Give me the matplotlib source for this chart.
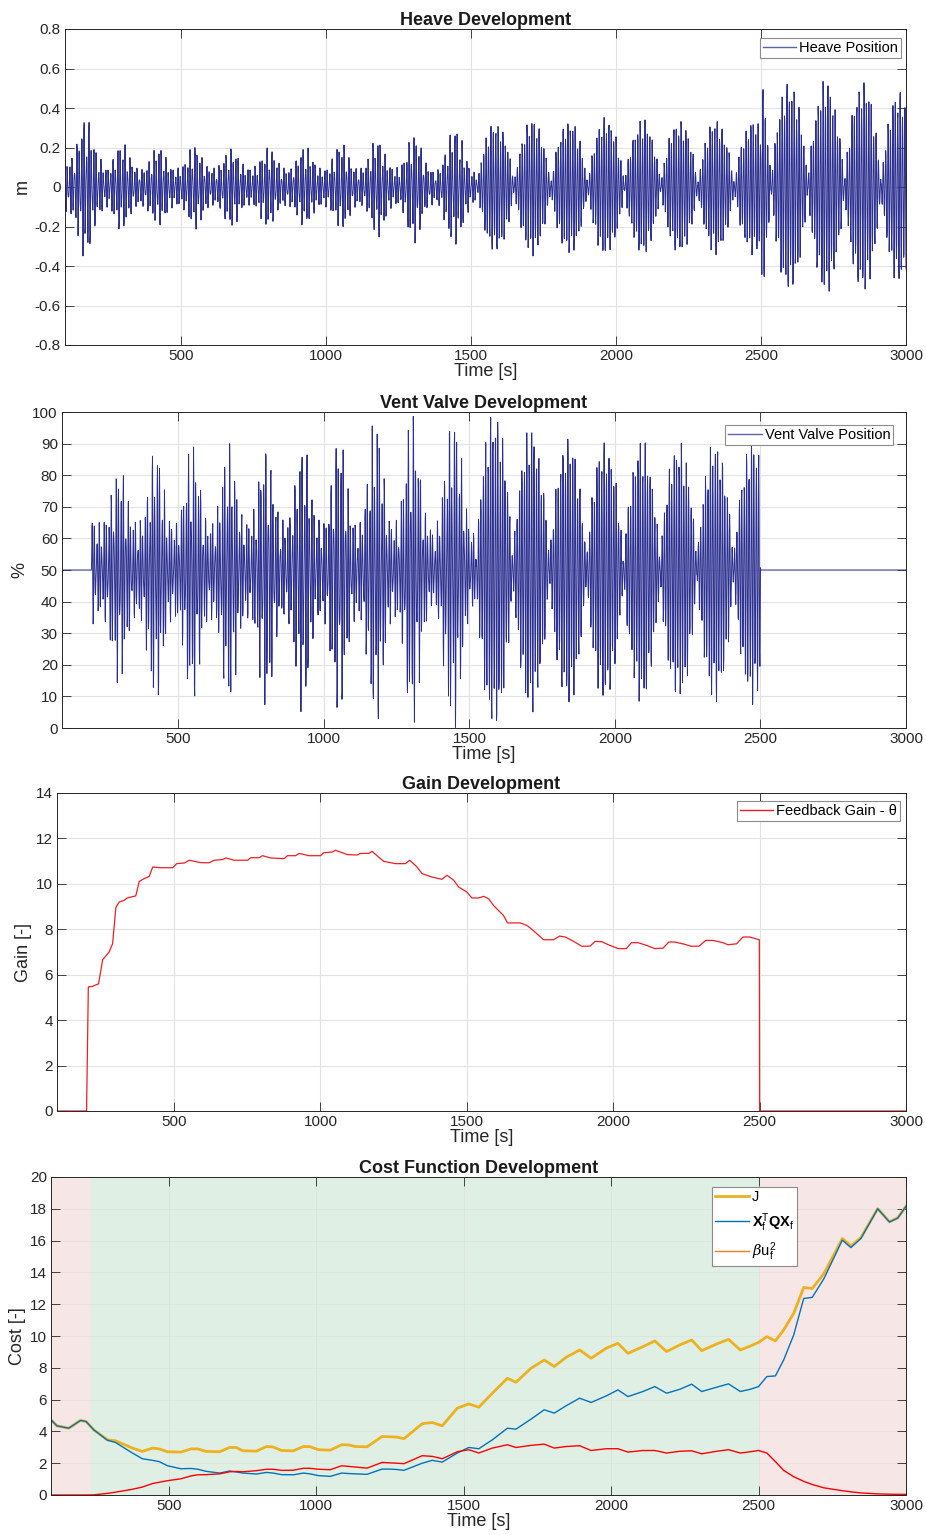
import numpy as np
import matplotlib.pyplot as plt
from matplotlib.lines import Line2D

plt.rcParams['font.family'] = ['Liberation Sans', 'DejaVu Sans']
plt.rcParams['axes.unicode_minus'] = False
plt.rcParams['mathtext.fontset'] = 'custom'
plt.rcParams['mathtext.rm'] = 'Liberation Sans'
plt.rcParams['mathtext.bf'] = 'Liberation Sans:bold'
plt.rcParams['mathtext.it'] = 'DejaVu Serif:italic'

# ---- wave groups (boundaries between groups, in s) ----
group_edges = [-18, 108, 233, 359, 485, 611, 737, 864, 990, 1115, 1241, 1367, 1522,
               1649, 1775, 1902, 2029, 2155, 2282, 2408, 2535, 2661, 2788, 2914, 3040]
wave_periods = [8.3, 5.9]          # s, the two wave components inside a group
weights_early = [0.68, 0.32]       # before ~1520 s the groups look irregular
weights_late = [0.86, 0.14]        # afterwards the groups are clean
regular_from = 1522

# heave: peak amplitude of each group and the residual level between groups [m]
heave_amp = [0.15, 0.37, 0.23, 0.21, 0.22, 0.21, 0.21, 0.21, 0.23, 0.26, 0.29, 0.31,
             0.34, 0.35, 0.35, 0.36, 0.35, 0.35, 0.35, 0.35, 0.55, 0.55, 0.55, 0.50]
heave_floor = [0.14, 0.14, 0.1, 0.1, 0.1, 0.1, 0.1, 0.1, 0.1, 0.1, 0.1, 0.08,
               0.01, 0.01, 0.01, 0.01, 0.01, 0.01, 0.01, 0.01, 0.02, 0.02, 0.02, 0.02]
heave_amp_after_switch = 0.75   # group running across t = 2500 s

# vent valve: deviation above / below 50 % per group, and residual level [%]
vent_up = [0, 24, 35, 40, 41, 41, 41, 42, 44, 50, 52, 52,
           52, 46, 43, 42, 42, 42, 42, 42, 0, 0, 0, 0]
vent_lo = [0, 26, 37, 44, 45, 45, 45, 46, 48, 52, 52, 52,
           52, 46, 44, 43, 43, 43, 43, 43, 0, 0, 0, 0]
vent_floor = [0, 15, 16, 16, 16, 16, 16, 16, 16, 16, 16, 12,
              2, 2, 2, 2, 2, 2, 2, 2, 0, 0, 0, 0]
vent_on, vent_off = 202, 2500

# feedback gain theta
gain_t = [100, 201, 207, 222, 242, 256, 278, 290, 301, 312, 329, 340, 369, 381, 398, 415,
          427, 455, 495, 509, 535, 552, 592, 620, 637, 666, 677, 705, 751, 762, 790, 802,
          830, 876, 887, 915, 927, 961, 1000, 1011, 1040, 1051, 1091, 1125, 1137, 1165,
          1176, 1216, 1256, 1290, 1305, 1330, 1347, 1381, 1415, 1432, 1455, 1472, 1500,
          1517, 1540, 1557, 1574, 1591, 1625, 1639, 1682, 1705, 1722, 1762, 1796, 1817,
          1836, 1859, 1893, 1921, 1938, 1961, 1983, 2017, 2045, 2062, 2085, 2114, 2142,
          2170, 2190, 2210, 2244, 2267, 2293, 2316, 2341, 2375, 2392, 2421, 2443, 2466,
          2499, 2500, 3000]
gain_val = [0, 0, 5.46, 5.49, 5.6, 6.66, 7.0, 7.37, 8.95, 9.2, 9.27, 9.38, 9.47, 10.11,
            10.23, 10.33, 10.74, 10.71, 10.71, 10.89, 10.92, 11.04, 10.93, 10.93, 11.04,
            11.07, 11.14, 11.04, 11.04, 11.15, 11.15, 11.24, 11.14, 11.11, 11.24, 11.24,
            11.34, 11.24, 11.24, 11.37, 11.4, 11.48, 11.29, 11.27, 11.34, 11.34, 11.43,
            10.99, 10.89, 10.89, 11.04, 10.74, 10.45, 10.3, 10.2, 10.38, 10.16, 9.86, 9.64,
            9.38, 9.38, 9.45, 9.35, 9.05, 8.61, 8.28, 8.28, 8.17, 8.0, 7.54, 7.54, 7.7,
            7.66, 7.51, 7.25, 7.26, 7.47, 7.45, 7.32, 7.15, 7.15, 7.41, 7.41, 7.29, 7.15,
            7.17, 7.44, 7.44, 7.34, 7.25, 7.26, 7.51, 7.51, 7.41, 7.32, 7.36, 7.66, 7.66,
            7.54, 0, 0]

# cost function terms
cost_t = [100, 120, 160, 200, 219, 245, 291, 319, 376, 410, 444, 467, 495, 541, 575, 598,
          626, 672, 706, 728, 751, 797, 831, 853, 882, 922, 956, 978, 1007, 1047, 1086,
          1109, 1132, 1172, 1223, 1251, 1274, 1297, 1359, 1393, 1427, 1478, 1517, 1551,
          1597, 1648, 1677, 1728, 1773, 1807, 1847, 1893, 1932, 1983, 2023, 2057, 2108,
          2148, 2188, 2233, 2273, 2307, 2358, 2398, 2438, 2472, 2500, 2528, 2557, 2585,
          2619, 2653, 2682, 2722, 2784, 2813, 2847, 2904, 2944, 2972, 3000]
cost_J = [4.73, 4.35, 4.2, 4.69, 4.62, 4.1, 3.47, 3.41, 2.95, 2.74, 2.95, 2.9, 2.72, 2.7,
          2.9, 2.9, 2.74, 2.72, 2.99, 2.99, 2.78, 2.76, 3.05, 3.02, 2.8, 2.78, 3.05, 3.04,
          2.85, 2.82, 3.16, 3.15, 3.05, 3.03, 3.68, 3.66, 3.64, 3.54, 4.48, 4.56, 4.35,
          5.46, 5.73, 5.52, 6.4, 7.34, 7.09, 7.97, 8.49, 8.08, 8.66, 9.12, 8.6, 9.23, 9.54,
          8.91, 9.33, 9.69, 9.02, 9.44, 9.75, 9.08, 9.5, 9.79, 9.12, 9.37, 9.6, 9.96, 9.69,
          10.38, 11.42, 13.05, 12.99, 13.93, 16.13, 15.67, 16.19, 18.01, 17.18, 17.43,
          18.16]
cost_xqx = [4.73, 4.35, 4.2, 4.69, 4.62, 4.1, 3.45, 3.3, 2.64, 2.28, 2.18, 2.1, 1.84,
            1.65, 1.67, 1.62, 1.49, 1.38, 1.51, 1.45, 1.38, 1.32, 1.42, 1.38, 1.28, 1.27,
            1.38, 1.33, 1.22, 1.17, 1.38, 1.35, 1.33, 1.3, 1.63, 1.63, 1.6, 1.55, 2.0,
            2.18, 2.07, 2.64, 2.99, 2.91, 3.47, 4.2, 4.14, 4.77, 5.36, 5.15, 5.61, 6.09,
            5.82, 6.23, 6.61, 6.19, 6.51, 6.82, 6.4, 6.65, 6.97, 6.51, 6.78, 6.99, 6.51,
            6.65, 6.82, 7.45, 7.49, 8.49, 10.06, 12.36, 12.43, 13.62, 16.03, 15.56, 16.13,
            18.0, 17.17, 17.42, 18.15]
cost_bu = [0, 0, 0, 0, 0, 0.01, 0.1, 0.18, 0.36, 0.5, 0.72, 0.8, 0.9, 1.02, 1.2, 1.27,
           1.28, 1.33, 1.46, 1.48, 1.46, 1.53, 1.62, 1.62, 1.55, 1.56, 1.68, 1.68, 1.62,
           1.59, 1.84, 1.8, 1.76, 1.69, 2.05, 2.02, 2.0, 1.97, 2.47, 2.43, 2.28, 2.72,
           2.85, 2.64, 2.95, 3.16, 2.99, 3.12, 3.2, 2.95, 3.05, 3.1, 2.8, 2.91, 2.91, 2.7,
           2.8, 2.8, 2.64, 2.75, 2.78, 2.59, 2.75, 2.85, 2.64, 2.72, 2.8, 2.64, 2.1, 1.55,
           1.15, 0.86, 0.66, 0.45, 0.27, 0.2, 0.13, 0.07, 0.05, 0.04, 0.04]
active_start, active_end = 235, 2500


def group_envelope(t, amp, floor, switch_amp=None):
    env = np.zeros_like(t)
    for k in range(len(group_edges) - 1):
        a, b = group_edges[k], group_edges[k + 1]
        m = (t >= a) & (t < b)
        sharp = 3.0 if a < regular_from else 0.8
        s = np.sin(np.pi * (t[m] - a) / (b - a)) ** sharp
        env[m] = floor[k] + (amp[k] - floor[k]) * s
    if switch_amp is not None:
        m = (t >= 2500) & (t < 2535)
        s = np.sin(np.pi * (t[m] - 2408) / (2535 - 2408)) ** 0.8
        env[m] = switch_amp * s
    return env


def waves(t, phase):
    early = np.zeros_like(t)
    late = np.zeros_like(t)
    for p, we, wl in zip(wave_periods, weights_early, weights_late):
        c = np.cos(2 * np.pi * t / p + phase * p)
        early += we * c
        late += wl * c
    return np.where(t < regular_from, early, late)


t = np.arange(100, 3000.5, 1.0)
heave = group_envelope(t, heave_amp, heave_floor, heave_amp_after_switch) * waves(t, 0.0)

up = group_envelope(t, vent_up, vent_floor)
lo = group_envelope(t, vent_lo, vent_floor)
vw = waves(t, 0.4)
vent = 50 + np.where(vw > 0, up, lo) * vw
vent = np.clip(vent, 0, 100)
vent[(t < vent_on) | (t > vent_off)] = 50

# ---- figure ----
W, H = 926, 1535
fig = plt.figure(figsize=(W / 100, H / 100), dpi=100)


def axes_px(left, right, top, bottom):
    return fig.add_axes([left / W, 1 - bottom / H, (right - left) / W, (bottom - top) / H])


def style(ax, title, ylabel, yticks, ylim):
    ax.set_xlim(100, 3000)
    ax.set_ylim(*ylim)
    ax.set_xticks([500, 1000, 1500, 2000, 2500, 3000])
    ax.set_yticks(yticks)
    ax.set_axisbelow(True)
    ax.grid(True, color='#e2e2e2', lw=0.8)
    ax.tick_params(direction='in', top=True, right=True, length=6.5, width=0.6,
                   labelsize=11, colors='#262626', pad=3)
    for s in ax.spines.values():
        s.set_color('#262626')
        s.set_linewidth(0.7)
    ax.set_title(title, fontsize=13, fontweight='bold', color='#1a1a1a', pad=3)
    ax.set_xlabel('Time [s]', fontsize=13, color='#262626', labelpad=0)
    ax.set_ylabel(ylabel, fontsize=13, color='#262626', labelpad=3)


def legend(ax, handles, labels, anchor, spacing=0.3):
    lg = ax.legend(handles, labels, loc='upper right', bbox_to_anchor=anchor,
                   fontsize=10.5, fancybox=False, framealpha=1, edgecolor='#8c8c8c',
                   borderpad=0.2, handlelength=2.3, handletextpad=0.2,
                   labelspacing=spacing, borderaxespad=0)
    lg.get_frame().set_linewidth(0.8)
    return lg


# heave
ax1 = axes_px(65, 906, 29, 345)
ax1.plot(t, heave, color='#2b2f8f', lw=0.7)
style(ax1, 'Heave Development', 'm', np.round(np.arange(-0.8, 0.81, 0.2), 1), (-0.8, 0.8))
ax1.set_yticklabels(['-0.8', '-0.6', '-0.4', '-0.2', '0', '0.2', '0.4', '0.6', '0.8'])
legend(ax1, [Line2D([], [], color='#5b60b0', lw=1)], ['Heave Position'], (0.994, 0.972))

# vent valve
ax2 = axes_px(62, 906, 412, 728)
ax2.plot(t, vent, color='#2b2f8f', lw=0.7)
style(ax2, 'Vent Valve Development', '%', np.arange(0, 101, 10), (0, 100))
legend(ax2, [Line2D([], [], color='#5b60b0', lw=1)], ['Vent Valve Position'], (0.985, 0.959))

# gain
ax3 = axes_px(57, 906, 793, 1111)
ax3.plot(gain_t, gain_val, color='#f01e23', lw=0.9)
style(ax3, 'Gain Development', 'Gain [-]', np.arange(0, 15, 2), (0, 14))
legend(ax3, [Line2D([], [], color='#f01e23', lw=1)], ['Feedback Gain - θ'], (0.993, 0.975))

# cost function
ax4 = axes_px(51, 906, 1177, 1495)
ax4.axvspan(100, active_start, color='#f7e6e6', lw=0, zorder=0)
ax4.axvspan(active_start, active_end, color='#e0efe3', lw=0, zorder=0)
ax4.axvspan(active_end, 3000, color='#f7e6e6', lw=0, zorder=0)
ax4.plot(cost_t, cost_J, color='#edb120', lw=2)
ax4.plot(cost_t, cost_xqx, color='#0072bd', lw=1)
ax4.plot(cost_t, cost_bu, color='#ff0000', lw=1)
style(ax4, 'Cost Function Development', 'Cost [-]', np.arange(0, 21, 2), (0, 20))
ax4.grid(True, color='#d8dcd8', lw=0.6, alpha=0.6)
legend(ax4,
       [Line2D([], [], color='#edb120', lw=2), Line2D([], [], color='#0072bd', lw=1),
        Line2D([], [], color='#f07e26', lw=1)],
       ['J', r'$\mathbf{X}_\mathrm{f}^\mathrm{T}\mathbf{QX}_\mathrm{f}$', r'$\beta$u$_\mathrm{f}^2$'],
       (0.873, 0.967), spacing=0.45)

fig.savefig('out.png', dpi=100)
